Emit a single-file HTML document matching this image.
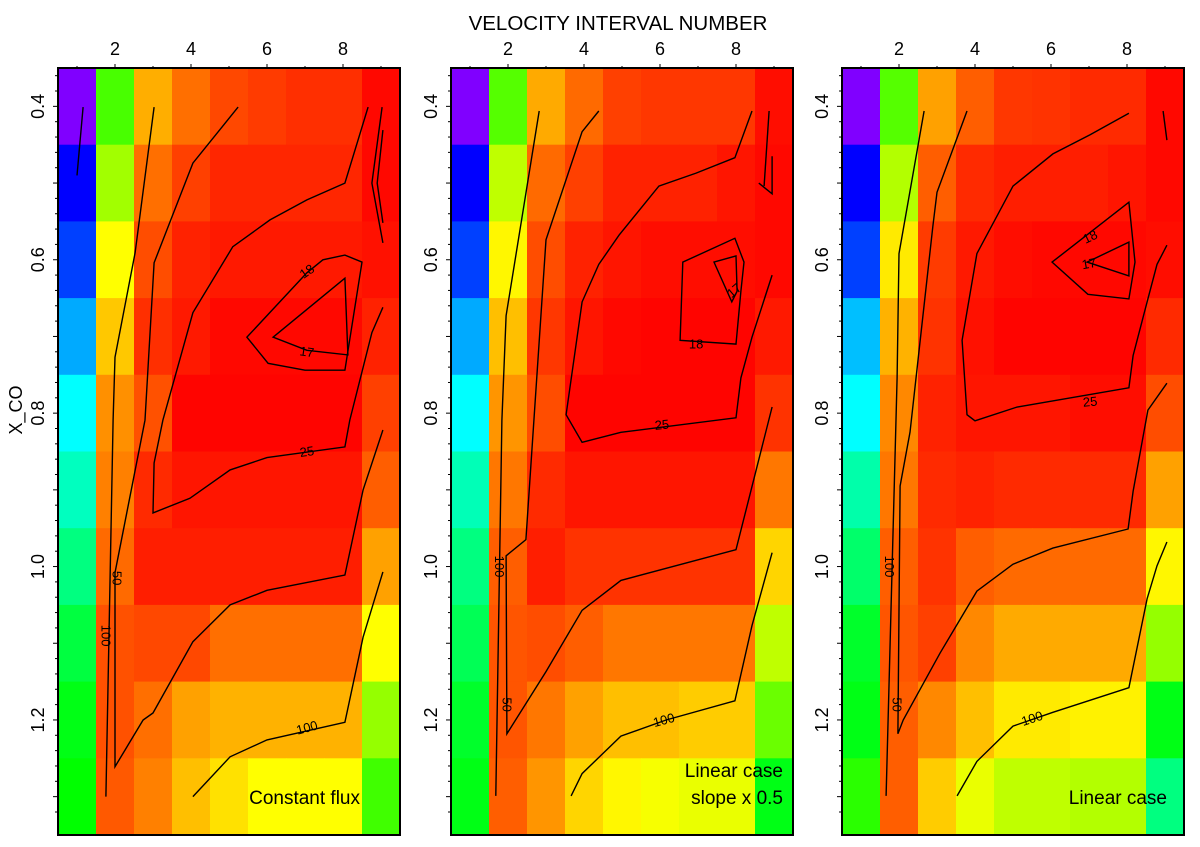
<!DOCTYPE html>
<html><head><meta charset="utf-8"><style>
html,body{margin:0;padding:0;background:#fff;}
svg{display:block;font-family:"Liberation Sans",sans-serif;}
</style></head><body>
<svg id="chart" width="1200" height="847" viewBox="0 0 1200 847" xmlns="http://www.w3.org/2000/svg">
<text x="618" y="30" text-anchor="middle" font-size="20.5">VELOCITY INTERVAL NUMBER</text>
<text transform="translate(22,410) rotate(-90)" text-anchor="middle" font-size="18">X_CO</text>
</svg>
<script>
// x: velocity interval 1..9 ; y: X_CO 0.4..1.3
const xCats=[1,2,3,4,5,6,7,8,9];
const yCats=[0.4,0.5,0.6,0.7,0.8,0.9,1.0,1.1,1.2,1.3];
const xTicks=[2,4,6,8];
const yTicks=[0.4,0.6,0.8,1.0,1.2];
const yTickLabels=["0.4","0.6","0.8","1.0","1.2"];
// cell hues (colour-scale value), rows top->bottom
const hue1=[
[270,103,41,26,17,14,11,11,2],
[240,82,26,15,9,9,9,9,2],
[225,60,18,8,6,6,6,6,4],
[200,47,11,6,2,2,2,2,8],
[180,34,19,1,1,1,1,1,15],
[165,30,10,5,5,5,5,5,22],
[150,25,7,7,7,7,7,7,38],
[135,19,17,17,26,26,26,26,60],
[125,19,26,38,42,42,42,42,85],
[120,21,30,45,53,60,60,60,105]];
const hue2=[
[270,100,40,25,15,13,13,13,3],
[240,75,25,15,8,8,8,5,2],
[225,58,18,8,5,3,3,3,2],
[200,45,13,5,2,1,1,1,6],
[180,35,18,1,1,1,1,1,12],
[163,28,10,5,5,5,5,5,28],
[150,22,7,12,12,12,12,12,50],
[140,20,18,22,28,28,28,28,75],
[130,20,28,38,45,45,48,48,95],
[125,22,35,50,58,62,65,65,125]];
const hue3=[
[270,100,38,22,13,12,10,10,2],
[240,78,22,10,7,7,7,5,2],
[225,55,14,6,3,2,2,2,3],
[195,42,12,4,1,1,1,1,10],
[180,32,8,5,5,5,3,3,18],
[160,28,10,8,10,10,10,10,38],
[145,22,12,22,25,25,25,25,58],
[130,20,15,32,40,40,40,40,85],
[125,22,32,45,55,55,57,57,125],
[110,22,48,65,75,75,78,78,150]];
// contours: arrays of [interval, X_CO]
const cont1=[
{lv:"100",closed:false,pts:[[3.03,0.401],[2.53,0.591],[2.0,0.727],[1.95,0.809],[1.76,1.3]]},
{lv:"50",closed:false,pts:[[5.24,0.401],[4.05,0.474],[3.5,0.544],[3.03,0.604],[2.79,0.809],[2.0,1.008],[2.0,1.261],[2.74,1.2],[3.0,1.191],[4.05,1.098],[5.03,1.05],[6.0,1.031],[8.05,1.011],[8.53,0.9],[9.05,0.822]]},
{lv:"25",closed:false,pts:[[8.66,0.401],[8.05,0.5],[7.05,0.522],[6.08,0.548],[5.1,0.583],[4.05,0.669],[3.26,0.809],[3.03,0.865],[3.0,0.93],[3.97,0.911],[5.03,0.874],[6.0,0.858],[8.05,0.844],[8.18,0.809],[8.76,0.695],[9.05,0.662]]},
{lv:"100",closed:false,pts:[[4.05,1.3],[5.03,1.248],[6.0,1.226],[8.05,1.203],[8.53,1.092],[9.05,1.007]]},
{lv:"18",closed:true,pts:[[5.47,0.701],[6.03,0.735],[7.0,0.744],[8.05,0.744],[8.5,0.603],[8.05,0.594],[7.47,0.6],[7.05,0.617]]},
{lv:"17",closed:true,pts:[[6.16,0.701],[8.05,0.624],[8.13,0.724],[7.05,0.718]]},
{lv:"",closed:false,pts:[[9.03,0.401],[8.76,0.5],[9.05,0.578]]},
{lv:"",closed:false,pts:[[9.05,0.431],[8.9,0.5],[9.05,0.552]]},
{lv:"",closed:false,pts:[[1.16,0.401],[1.0,0.49]]}];
const cont2=[
{lv:"100",closed:false,pts:[[2.82,0.406],[1.95,0.673],[1.84,0.809],[1.68,1.299]]},
{lv:"50",closed:false,pts:[[4.39,0.406],[3.95,0.433],[3.0,0.574],[2.47,0.965],[1.95,0.986],[1.97,1.218],[3.0,1.137],[3.95,1.057],[4.97,1.018],[8.0,0.978],[8.95,0.792]]},
{lv:"25",closed:false,pts:[[8.42,0.406],[7.97,0.467],[6.95,0.487],[5.97,0.504],[4.92,0.568],[4.39,0.606],[3.95,0.655],[3.53,0.802],[3.95,0.838],[4.97,0.825],[8.0,0.806],[8.13,0.754],[8.42,0.701],[8.95,0.62]]},
{lv:"100",closed:false,pts:[[3.66,1.299],[3.95,1.27],[4.97,1.221],[6.16,1.2],[7.97,1.175],[8.42,1.077],[8.95,0.982]]},
{lv:"18",closed:true,pts:[[6.6,0.603],[6.53,0.705],[8.0,0.71],[8.13,0.641],[8.21,0.603],[7.97,0.572]]},
{lv:"17",closed:true,pts:[[7.42,0.603],[8.0,0.595],[8.03,0.641],[7.89,0.655]]},
{lv:"",closed:false,pts:[[8.87,0.406],[8.74,0.504]]},
{lv:"",closed:false,pts:[[8.95,0.465],[8.95,0.514],[8.6,0.5]]}];
const cont3=[
{lv:"100",closed:false,pts:[[2.66,0.406],[2.0,0.592],[1.95,0.754],[1.66,1.299]]},
{lv:"50",closed:false,pts:[[3.79,0.406],[3.0,0.512],[2.89,0.557],[2.29,0.825],[2.03,0.895],[1.97,1.218],[2.11,1.2],[3.08,1.113],[4.05,1.032],[5.0,0.997],[6.05,0.976],[8.03,0.951],[8.16,0.902],[8.55,0.796],[9.05,0.761]]},
{lv:"25",closed:false,pts:[[8.05,0.409],[7.03,0.437],[6.05,0.462],[5.0,0.504],[4.05,0.592],[3.66,0.705],[3.79,0.802],[4.0,0.81],[5.11,0.792],[8.05,0.767],[8.16,0.725],[8.53,0.655],[8.79,0.606],[9.05,0.581]]},
{lv:"100",closed:false,pts:[[3.53,1.299],[4.05,1.254],[5.0,1.208],[6.05,1.19],[8.05,1.158],[8.53,1.042],[8.79,0.999],[9.05,0.968]]},
{lv:"18",closed:true,pts:[[6.03,0.603],[6.97,0.645],[8.05,0.651],[8.21,0.603],[8.05,0.525]]},
{lv:"17",closed:true,pts:[[6.95,0.603],[8.05,0.577],[8.05,0.621]]},
{lv:"",closed:false,pts:[[8.95,0.406],[9.05,0.444]]}];
// contour labels: [text, interval, X_CO, rotation]
const lab1=[["100",1.76,1.09,90],["50",2.05,1.015,90],["25",7.05,0.85,-8],["18",7.05,0.615,-35],["17",7.05,0.72,8],["100",7.05,1.21,-15]];
const lab2=[["100",1.78,1.0,90],["50",1.97,1.18,90],["25",6.05,0.815,-5],["18",6.95,0.71,0],["17",7.95,0.64,-40],["100",6.1,1.2,-15]];
const lab3=[["100",1.75,1.0,90],["50",1.95,1.18,90],["25",7.03,0.785,-5],["18",7.03,0.57,-25],["17",7.0,0.605,-10],["100",5.5,1.198,-18]];
const panels=[
{name:"constant-flux",left:58,hue:hue1,cont:cont1,lab:lab1,note:["Constant flux"],noteX:360},
{name:"linear-half-slope",left:451,hue:hue2,cont:cont2,lab:lab2,note:["Linear case","slope x 0.5"],noteX:783},
{name:"linear-case",left:842,hue:hue3,cont:cont3,lab:lab3,note:["Linear case"],noteX:1167}];
const NS="http://www.w3.org/2000/svg";
const svg=document.getElementById('chart');
const TOP=68,CW=38,RH=76.7;
function mk(tag,attrs,parent){const e=document.createElementNS(NS,tag);for(const k in attrs)e.setAttribute(k,attrs[k]);(parent||svg).appendChild(e);return e;}
panels.forEach((p,pi)=>{
  const xs=v=>p.left+(v-0.5)*CW;
  const ys=v=>TOP+(v-0.35)/0.1*RH;
  const g=mk('g',{});
  
  
  yCats.forEach((yc,r)=>{xCats.forEach((xc,c)=>{
    const rc=mk('rect',{x:xs(xc-0.5),y:ys(yc-0.05),width:CW+0.6,height:RH+0.6,fill:'hsl('+p.hue[r][c]+',100%,50%)'},g);
    
    
  });});
  p.cont.forEach(ct=>{
    let d=ct.pts.map((q,i)=>(i?'L':'M')+xs(q[0]).toFixed(1)+','+ys(q[1]).toFixed(1)).join(' ')+(ct.closed?' Z':'');
    const pa=mk('path',{d:d,fill:'none',stroke:'#000','stroke-width':1.4},g);
    
    
  });
  p.lab.forEach(l=>{
    const t=mk('text',{x:0,y:0,'font-size':13,'text-anchor':'middle','dominant-baseline':'central',transform:'translate('+xs(l[1]).toFixed(1)+','+ys(l[2]).toFixed(1)+') rotate('+l[3]+')'},g);
    t.textContent=l[0];
    
    
  });
  const right=xs(9.5),bottom=ys(1.35);
  const fr=mk('rect',{x:p.left,y:TOP,width:right-p.left,height:bottom-TOP,fill:'none',stroke:'#000','stroke-width':2},g);
  
  
  xCats.forEach(v=>{mk('line',{x1:xs(v),x2:xs(v),y1:TOP,y2:TOP-(v%2?2:4),stroke:'#000'},g);});
  xTicks.forEach(v=>{
    const t=mk('text',{x:xs(v),y:TOP-13,'font-size':18,'text-anchor':'middle'},g);
    t.textContent=String(v);
    
    
  });
  for(let k=0;k<=48;k++){const v=0.36+k*0.02;if(v>1.345)break;
    mk('line',{x1:p.left,x2:p.left-(Math.abs(v*10-Math.round(v*10))<0.01?5:3),y1:ys(v),y2:ys(v),stroke:'#000'},g);}
  yTicks.forEach((v,i)=>{
    const t=mk('text',{x:0,y:0,'font-size':18,'text-anchor':'middle',transform:'translate('+(p.left-14)+','+ys(v)+') rotate(-90)'},g);
    t.textContent=yTickLabels[i];
    
    
  });
  p.note.forEach((s,i)=>{
    const t=mk('text',{x:p.noteX,y:804-(p.note.length-1-i)*27,'font-size':19,'text-anchor':'end'},g);
    t.textContent=s;
    
    
  });
});
</script>
</body></html>
